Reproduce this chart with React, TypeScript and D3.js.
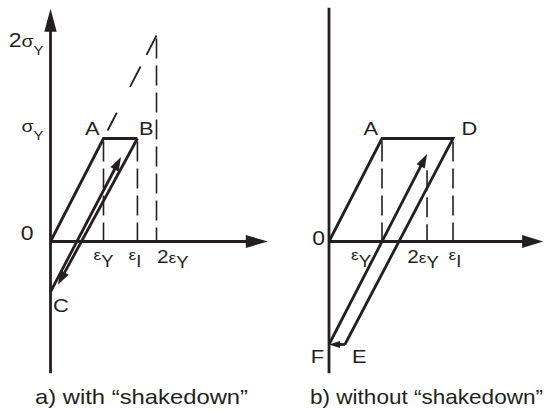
import React from "react";
import * as d3 from "d3";

// Strain is measured in units of εY, stress in units of σY.
type Pt = [number, number];

// Panel a) — with shakedown
const loadA: Pt[] = [[0, 0], [1, 1], [1.64, 1]]; // O → A → B
const unloadA: Pt[] = [[1.64, 1], [0.14, -0.42]]; // B → C
const reloadA: Pt[] = [[0, -0.49], [1.33, 0.82]]; // C → B
const extrapA: Pt[] = [[1, 1], [2, 2]]; // elastic line beyond yield
const guideXA = [1, 1.64, 2];
const guideTopA = [1, 1, 2];
const tickXA = [1, 1.64, 2];
const tickPreA = ["", "", "2"];
const tickSubA = ["Y", "I", "Y"];
const stressYA = [2, 1];
const stressPreA = ["2", ""];
const pointNamesA = ["A", "B", "C"];
const pointXA = [1, 1.64, 0];
const pointYA = [1, 1, -0.49];

// Panel b) — without shakedown
const loadB: Pt[] = [[0, 0], [1, 1], [2.34, 1], [0.3, -1]]; // O → A → D → E
const compB: Pt[] = [[0.3, -1], [0, -1]]; // E → F
const reloadB: Pt[] = [[0, -1], [1.85, 0.85]]; // F → D
const guideXB = [1, 1.85, 2.34];
const guideTopB = [1, 0.72, 1];
const tickXB = [1, 1.85, 2.34];
const tickPreB = ["", "2", ""];
const tickSubB = ["Y", "Y", "I"];
const pointNamesB = ["A", "D", "E", "F"];
const pointXB = [1, 2.34, 0.3, 0];
const pointYB = [1, 1, -1, -1];

const captions = ["a) with “shakedown”", "b) without “shakedown”"];

const INK = "#231f20";
const FONT = "'Liberation Sans', Arial, Helvetica, sans-serif";
const STROKE = 2.8;

const W = 555;
const H = 413;

function arrowHead(tip: Pt, from: Pt, len: number, half: number) {
  const dx = tip[0] - from[0];
  const dy = tip[1] - from[1];
  const d = Math.hypot(dx, dy) || 1;
  const ux = dx / d;
  const uy = dy / d;
  const bx = tip[0] - ux * len;
  const by = tip[1] - uy * len;
  return `M${tip[0]},${tip[1]}L${bx - uy * half},${by + ux * half}L${bx + uy * half},${by - ux * half}Z`;
}

const line = d3.line<Pt>();

function Arrow({ pts, len = 14, half = 4.6 }: { pts: Pt[]; len?: number; half?: number }) {
  const tip = pts[pts.length - 1];
  const prev = pts[pts.length - 2];
  const d = Math.hypot(tip[0] - prev[0], tip[1] - prev[1]);
  const t = (d - len * 0.6) / d;
  const shaft: Pt[] = [...pts.slice(0, -1), [prev[0] + (tip[0] - prev[0]) * t, prev[1] + (tip[1] - prev[1]) * t]];
  return (
    <g>
      <path d={line(shaft) ?? ""} fill="none" stroke={INK} strokeWidth={STROKE} />
      <path d={arrowHead(tip, prev, len, half)} fill={INK} />
    </g>
  );
}

// Text stretched slightly wider, as in the figure's lettering
function Label({ x, y, anchor = "start", children }: { x: number; y: number; anchor?: string; children: React.ReactNode }) {
  return (
    <g transform={`translate(${x},${y}) scale(1.15,1)`}>
      <text x={0} y={0} textAnchor={anchor} fill={INK} fontFamily={FONT}>
        {children}
      </text>
    </g>
  );
}

export default function App() {
  // shared elastic scale: one εY ≈ 53px, one σY ≈ 103px
  const yS = d3.scaleLinear().domain([0, 1]).range([241.5, 138.5]);
  const xA = d3.scaleLinear().domain([0, 1]).range([50.5, 103.5]);
  const xB = d3.scaleLinear().domain([0, 1]).range([329, 382]);

  const P = (x: d3.ScaleLinear<number, number>) => (p: Pt): Pt => [x(p[0]), yS(p[1])];
  const pa = P(xA);
  const pb = P(xB);

  const yTop = 2.26;
  const yBot = -1.28;
  const xEnd = 4.1;

  // label offsets (px) relative to their points
  const ptOffA = [
    { dx: -4, dy: -3.5, anchor: "end" },
    { dx: 1.5, dy: -3.5, anchor: "start" },
    { dx: 2.5, dy: 20.5, anchor: "start" },
  ];
  const ptOffB = [
    { dx: -4, dy: -3.5, anchor: "end" },
    { dx: 8.5, dy: -3.5, anchor: "start" },
    { dx: 7, dy: 18.5, anchor: "start" },
    { dx: -5, dy: 18.5, anchor: "end" },
  ];
  const tickOffA = [
    { dx: 0, anchor: "middle" },
    { dx: -2.5, anchor: "middle" },
    { dx: 0.5, anchor: "start" },
  ];
  const tickOffB = [
    { dx: -11, anchor: "end" },
    { dx: -4, anchor: "middle" },
    { dx: 2, anchor: "middle" },
  ];
  const stressOffA = [11.5, -6.5];
  const captionX = [141.5, 426.5];
  const captionLen = [213, 233];

  const tickLabel = (x: number, pre: string, sub: string, anchor: string, key: string) => (
    <Label key={key} x={x} y={260} anchor={anchor}>
      {pre ? <tspan fontSize={18} dy={3}>{pre}</tspan> : null}
      <tspan fontSize={15}>ε</tspan>
      <tspan fontSize={16} dy={pre ? 5 : 7}>{sub}</tspan>
    </Label>
  );

  return (
    <svg width={W} height={H} viewBox={`0 0 ${W} ${H}`} style={{ display: "block", position: "absolute", left: 0, top: 0, background: "#fff" }}>
      <rect width={W} height={H} fill="#fff" />

      {/* ---------- panel a ---------- */}
      <g>
        {/* axes */}
        <line x1={xA(0)} x2={xA(0)} y1={yS(yBot)} y2={yS(yTop) + 18} stroke={INK} strokeWidth={STROKE} />
        <path d={arrowHead([xA(0), yS(yTop)], [xA(0), yS(0)], 23, 6.2)} fill={INK} />
        <line x1={xA(0)} x2={xA(xEnd) - 18} y1={yS(0)} y2={yS(0)} stroke={INK} strokeWidth={STROKE} />
        <path d={arrowHead([xA(xEnd), yS(0)], [xA(0), yS(0)], 22, 6.5)} fill={INK} />

        {/* dashed guides */}
        {guideXA.map((g, i) => (
          <line key={`ga${i}`} x1={xA(g)} x2={xA(g)} y1={yS(guideTopA[i])} y2={yS(0)} stroke={INK} strokeWidth={1.6} strokeDasharray="20 7" strokeDashoffset={-3} />
        ))}
        <path d={line(extrapA.map(pa)) ?? ""} fill="none" stroke={INK} strokeWidth={1.8} strokeDasharray="0 9 20 29 23 13 22 10" />

        {/* stress–strain path */}
        <path d={line(loadA.map(pa)) ?? ""} fill="none" stroke={INK} strokeWidth={STROKE} strokeLinejoin="miter" />
        <Arrow pts={unloadA.map(pa)} />
        <Arrow pts={reloadA.map(pa)} />

        {/* labels */}
        <Label x={xA(0) - 17} y={yS(0) - 1.5} anchor="end"><tspan fontSize={20}>0</tspan></Label>
        {stressYA.map((v, i) => (
          <Label key={`sa${i}`} x={xA(0) - 7} y={yS(v) + stressOffA[i]} anchor="end">
            {stressPreA[i] ? <tspan fontSize={20}>{stressPreA[i]}</tspan> : null}
            <tspan fontSize={17}>σ</tspan>
            <tspan fontSize={13} dy={8}>Y</tspan>
          </Label>
        ))}
        {tickXA.map((t, i) => tickLabel(xA(t) + tickOffA[i].dx, tickPreA[i], tickSubA[i], tickOffA[i].anchor, `ta${i}`))}
        {pointNamesA.map((n, i) => (
          <Label key={`pa${i}`} x={xA(pointXA[i]) + ptOffA[i].dx} y={yS(pointYA[i]) + ptOffA[i].dy} anchor={ptOffA[i].anchor}>
            <tspan fontSize={19}>{n}</tspan>
          </Label>
        ))}
      </g>

      {/* ---------- panel b ---------- */}
      <g>
        <line x1={xB(0)} x2={xB(0)} y1={yS(yBot)} y2={yS(2.27)} stroke={INK} strokeWidth={STROKE} />
        <line x1={xB(0)} x2={xB(4.04) - 18} y1={yS(0)} y2={yS(0)} stroke={INK} strokeWidth={STROKE} />
        <path d={arrowHead([xB(4.04), yS(0)], [xB(0), yS(0)], 21, 6.5)} fill={INK} />

        {guideXB.map((g, i) => (
          <line key={`gb${i}`} x1={xB(g)} x2={xB(g)} y1={yS(guideTopB[i])} y2={yS(0)} stroke={INK} strokeWidth={1.6} strokeDasharray="20 7" strokeDashoffset={-3} />
        ))}

        <path d={line(loadB.map(pb)) ?? ""} fill="none" stroke={INK} strokeWidth={STROKE} strokeLinejoin="miter" />
        <Arrow pts={compB.map(pb)} len={11} half={3.5} />
        <Arrow pts={reloadB.map(pb)} />

        <Label x={xB(0) - 4} y={yS(0) + 3.5} anchor="end"><tspan fontSize={20}>0</tspan></Label>
        {tickXB.map((t, i) => tickLabel(xB(t) + tickOffB[i].dx, tickPreB[i], tickSubB[i], tickOffB[i].anchor, `tb${i}`))}
        {pointNamesB.map((n, i) => (
          <Label key={`pb${i}`} x={xB(pointXB[i]) + ptOffB[i].dx} y={yS(pointYB[i]) + ptOffB[i].dy} anchor={ptOffB[i].anchor}>
            <tspan fontSize={19}>{n}</tspan>
          </Label>
        ))}
      </g>

      {/* captions */}
      {captions.map((c, i) => (
        <text key={`c${i}`} x={captionX[i]} y={404} textAnchor="middle" fontSize={21} fill={INK} fontFamily={FONT} textLength={captionLen[i]} lengthAdjust="spacingAndGlyphs">
          {c}
        </text>
      ))}
    </svg>
  );
}
